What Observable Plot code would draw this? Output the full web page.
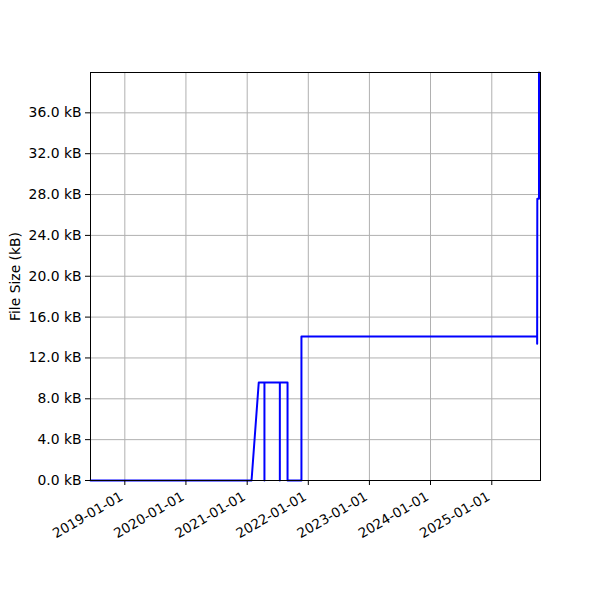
<!DOCTYPE html>
<html>
<head>
<meta charset="utf-8">
<script src="https://cdn.jsdelivr.net/npm/d3@7"></script>
<script src="https://cdn.jsdelivr.net/npm/@observablehq/plot@0.6"></script>
<style>
  body { margin: 0; background: #fff; }
  #chart { width: 600px; height: 600px; }
  svg { font-family: "DejaVu Sans", sans-serif; }
</style>
</head>
<body>
<div id="chart"></div>
<script>
const dates = [
  "2018-06-10", "2021-01-27", "2021-03-11", "2021-04-14", "2021-04-14", "2021-04-14",
  "2021-07-15", "2021-07-15", "2021-07-15", "2021-08-30", "2021-08-30", "2021-11-21",
  "2021-11-21", "2025-09-29", "2025-09-29", "2025-09-30", "2025-10-10", "2025-10-10"
];
const sizesKB = [
  0, 0, 9.6, 9.6, 0, 9.6,
  9.6, 0, 9.6, 9.6, 0, 0,
  14.1, 14.1, 13.4, 27.6, 27.6, 39.95
];
const xTickDates = ["2019-01-01", "2020-01-01", "2021-01-01", "2022-01-01", "2023-01-01", "2024-01-01", "2025-01-01"];
const yTicks = [0, 4, 8, 12, 16, 20, 24, 28, 32, 36];
const xDomain = ["2018-06-10", "2025-10-19"];
const yDomain = [0, 39.95];

const data = dates.map((d, i) => ({date: new Date(d + "T00:00:00Z"), size: sizesKB[i]}));
const fmtDate = d3.utcFormat("%Y-%m-%d");
const xTicks = xTickDates.map(d => new Date(d + "T00:00:00Z"));

const chart = Plot.plot({
  width: 600,
  height: 600,
  marginLeft: 90,
  marginRight: 60,
  marginTop: 72,
  marginBottom: 120,
  style: {fontFamily: "DejaVu Sans, sans-serif", fontSize: "13.5px", color: "black", background: "white"},
  x: {type: "utc", domain: xDomain.map(d => new Date(d + "T00:00:00Z")), ticks: xTicks},
  y: {domain: yDomain, ticks: yTicks},
  marks: [
    Plot.gridX(xTicks, {stroke: "#b0b0b0", strokeOpacity: 1, strokeWidth: 1}),
    Plot.gridY(yTicks, {stroke: "#b0b0b0", strokeOpacity: 1, strokeWidth: 1}),
    Plot.line(data, {x: "date", y: "size", stroke: "#0000ff", strokeWidth: 2, curve: "linear"}),
    Plot.axisX(xTicks, {tickFormat: () => "", tickSize: 5, label: null}),
    Plot.axisX(xTicks, {tickFormat: fmtDate, tickRotate: -30, tickSize: 0, tickPadding: 6, dx: -3, dy: 9, label: null, fontSize: 13.5}),
    Plot.axisY(yTicks, {tickFormat: d => d.toFixed(1) + " kB", tickSize: 5, tickPadding: 4, label: "File Size (kB)", labelAnchor: "center", labelArrow: "none", labelOffset: 80, fontSize: 13.9}),
    Plot.frame({stroke: "black", strokeWidth: 1})
  ]
});
document.getElementById("chart").appendChild(chart);
</script>
</body>
</html>
